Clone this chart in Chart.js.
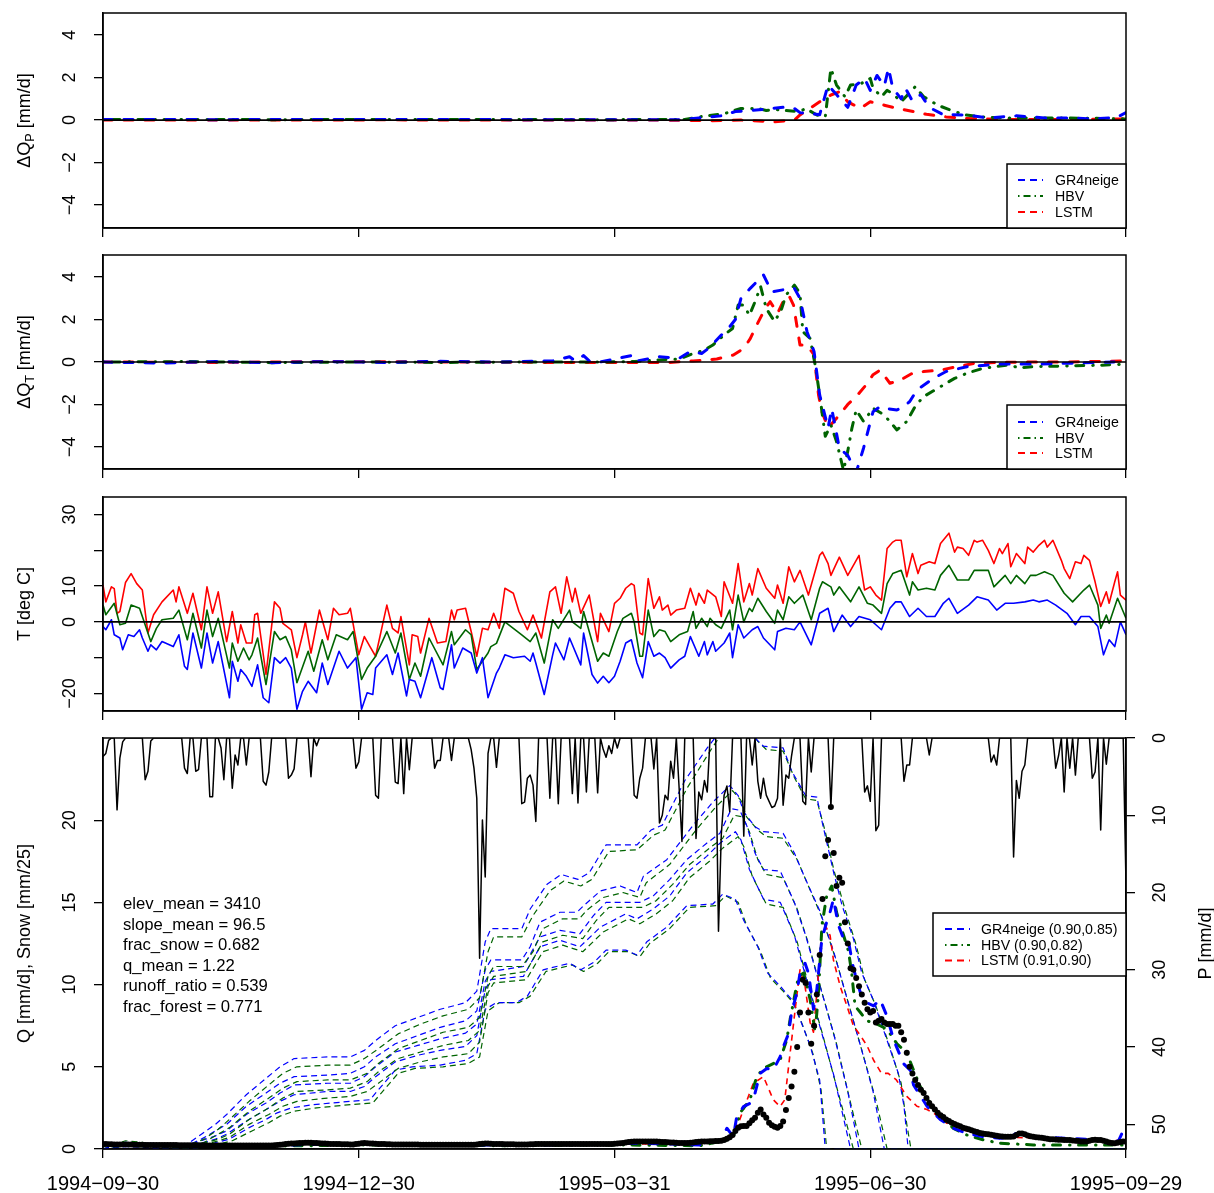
<!DOCTYPE html>
<html>
<head>
<meta charset="utf-8">
<title>Catchment response</title>
<script src="https://cdn.jsdelivr.net/npm/chart.js@4.4.1/dist/chart.umd.min.js"></script>
<style>
  html, body { margin: 0; padding: 0; background: #ffffff; }
  #page { position: relative; width: 1214px; height: 1193px; overflow: hidden; }
  #page canvas { position: absolute; left: 0; }
</style>
</head>
<body>
<div id="page">
  <canvas id="qpChart" width="1214" height="242" style="top:0px"></canvas>
  <canvas id="qtChart" width="1214" height="242" style="top:242px"></canvas>
  <canvas id="tempChart" width="1214" height="241" style="top:484px"></canvas>
  <canvas id="flowChart" width="1214" height="468" style="top:725px"></canvas>
</div>
<script>
// ---- data (x = days since 1994-09-30) ----
const dateTickDays = [0, 91, 182, 273, 364];
const dateLabels = ['1994-09-30', '1994-12-30', '1995-03-31', '1995-06-30', '1995-09-29'];

// panel 1: delta Q from precipitation perturbation [mm/d]
const dqpGR4 = [[0,0.03],[40,0.02],[90,0.03],[150,0.02],[205,0.02],[212,0.1],[220,0.2],[225,0.4],[230,0.45],[235,0.5],[238,0.55],[242,0.6],[246,0.55],[248,0.35],[252,0.3],[255,0.25],[258,1.65],[261,1.2],[265,0.6],[268,1.65],[271,1.96],[273,1.4],[275.4,2.1],[278,1.6],[279.5,2.45],[281,1.5],[284,1.0],[285.5,1.5],[288,0.9],[291,1.2],[294,0.6],[299,0.25],[307,0.24],[315,0.1],[325,0.2],[335,0.1],[345,0.1],[352,0.05],[358,0.1],[361,0.15],[364,0.35]];
const dqpHBV = [[0,0.03],[60,0.02],[120,0.03],[180,0.02],[207,0.03],[212,0.15],[221,0.3],[227,0.55],[233,0.55],[236,0.45],[239,0.5],[243,0.45],[248,0.4],[250,0.55],[254,0.24],[257,0.15],[259,2.43],[261,1.65],[264,1.1],[266,1.65],[269.5,1.7],[273,1.96],[274,1.5],[277,1.1],[279,1.4],[281,1.25],[284,0.86],[289,1.57],[292,1.1],[297,0.7],[303,0.4],[307,0.24],[313,0.15],[320,0.1],[340,0.1],[355,0.08],[364,0.05]];
const dqpLSTM = [[0,0],[100,0.01],[200,0],[216,-0.03],[227,0],[239,-0.08],[246,0],[248,0.24],[255,0.86],[259,1.18],[262,1.33],[265,0.86],[269.5,0.55],[273,0.86],[278,0.7],[282.5,0.55],[288.5,0.4],[293,0.27],[300,0.15],[307,0.08],[320,0.03],[350,0.03],[362,0.05],[364,0.1]];

// panel 2: delta Q from temperature perturbation [mm/d]
const dqtGR4 = [[0,0],[20,-0.05],[40,0.02],[60,-0.03],[80,0.02],[100,-0.02],[120,0.03],[140,0],[160,0.05],[166,0.25],[168,0.05],[171,0.3],[173,0.05],[177,0],[189,0.33],[190,0.05],[198,0.25],[205,0.17],[209,0.5],[213,0.4],[216,0.7],[220,1.27],[223,1.66],[225,2.0],[227,3.0],[230.3,3.47],[232.6,3.78],[235,4.1],[238,3.3],[242,3.4],[246,3.47],[248,3.0],[250.5,1.43],[253,0.5],[255,-1.55],[258,-3.1],[259.3,-2.2],[262,-4.06],[265,-4.4],[268,-5.2],[270.6,-4.06],[274,-2.34],[276.5,-2.1],[279,-2.2],[282.5,-2.26],[285,-2.1],[287,-1.87],[289.6,-1.32],[293,-1.0],[295.5,-0.77],[300,-0.45],[307.4,-0.22],[319,-0.1],[331,-0.1],[343,-0.06],[355,-0.02],[364,0.02]];
const dqtHBV = [[0,0],[30,0.02],[60,-0.03],[90,0],[120,-0.02],[150,0],[177,0],[189,0.02],[198,0.1],[205,0.14],[210,0.4],[214,0.56],[217,0.8],[221,1.27],[224,1.58],[226,2.68],[228,2.68],[230,2.2],[232,2.84],[234,3.55],[236,2.52],[239,1.9],[241.5,2.52],[243,3.15],[246,3.62],[248,3.23],[249,1.43],[251.6,1.11],[253.4,-0.14],[255,-1.55],[257,-3.5],[259,-2.96],[261,-3.75],[263.5,-5.1],[265,-4.2],[266.5,-3.1],[268,-2.26],[270.6,-2.8],[274,-2.18],[278,-2.5],[282.5,-3.2],[286,-2.8],[289.6,-1.95],[293,-1.55],[298,-1.16],[303,-0.77],[307.4,-0.53],[313,-0.3],[322,-0.14],[326,-0.27],[331,-0.22],[343,-0.19],[355,-0.15],[364,-0.1]];
const dqtLSTM = [[0,0],[40,-0.02],[80,0.02],[120,0],[160,-0.02],[200.6,-0.03],[210,0.05],[218.4,0.14],[224.3,0.33],[228,0.64],[230.3,1.1],[232.6,1.74],[235.6,2.52],[237.4,2.84],[240,2.29],[242,2.84],[244,3.15],[245.7,2.68],[248,0.8],[250.5,0.8],[253,0.33],[254.6,-1.55],[255.8,-2.34],[258,-3.1],[260,-2.8],[262,-2.5],[265,-2.0],[268,-1.63],[271,-1.16],[274,-0.6],[276.5,-0.38],[280,-1.0],[283.7,-0.85],[288,-0.53],[292,-0.45],[298,-0.38],[304,-0.22],[310,-0.06],[319,-0.02],[331,0],[343,0],[364,0.05]];

// panel 3: daily temperature [deg C]
const tMax = [[0,10.3],[1,5.6],[3,9.8],[4,9.3],[5,2.4],[6,2.9],[8,11],[10,13.5],[12,10.7],[14,8.9],[16,-3.1],[18,2],[21,5.6],[25,8.9],[26,5.6],[27,9.8],[30,2.4],[32,8],[35,-2.2],[37,9.8],[39,2.4],[41,8.4],[44,-5.5],[46,2.9],[48,-5.9],[49,-0.8],[51,-5.9],[53,-5.9],[54,2],[55,2.4],[58,-14.7],[61,5.6],[63,3.8],[64,-0.4],[67,-2.2],[69,-10],[71,-3.6],[72,0],[74,-8.7],[77,3.3],[80,-5],[82,3.8],[84,2],[87,2.4],[88,3.8],[91,-9.2],[93,-4.1],[95,-6.9],[97,-9.6],[101,4.7],[103,-1.8],[105,-3.1],[106,1.5],[109,-12],[110,-3.6],[112,-4.1],[113,-8.7],[116,1],[119,-5.9],[122,-5.5],[124,3.3],[125,0.6],[126,3.3],[129,3.8],[131,-2.7],[133,-9.6],[135,-1.8],[137,-2.2],[139,2.4],[141,-1.8],[143,9.4],[146,8],[148,2.9],[151,-2.2],[153,1.9],[156,-4.5],[159,8.4],[161,9.8],[163,2.4],[165,12.6],[167,5.6],[168,9.4],[170,2.4],[173,7.5],[176,-5.5],[177,2.4],[180,-2.7],[182,5.2],[184,6.6],[186,9.4],[188,10.7],[189,10.2],[191,-3.1],[192,-3.6],[194,12.1],[196,3.8],[198,7],[199,3.3],[201,4.7],[202,1.9],[204,3.3],[207,3.8],[209,9.4],[211,4.7],[212,8],[214,5.2],[215,8.9],[218,7],[220,1.5],[221,11.2],[224,5.2],[226,16.3],[228,5.6],[230,10.7],[231,7.5],[233,14.9],[236,9.4],[239,6.6],[240,10.3],[242,5.2],[244,15.4],[246,11.2],[248,14.4],[251,7.5],[255,18.6],[256,19.5],[258,16.3],[259,13],[262,18.1],[265,13],[269,18.6],[271,8.9],[273,9.8],[275,7.5],[277,6.1],[279,20.5],[281,22.3],[282,22.8],[284,22.8],[286,12.6],[288,19.1],[290,13.5],[291,15.8],[294,16.8],[296,16.3],[298,21.9],[301,24.8],[303,19.5],[304,20.9],[306,20.5],[308,18.6],[310,22.8],[311,22.3],[313,22.8],[315,20],[317,16.3],[319,20.5],[320,19.1],[322,21.9],[323,15.4],[325,19.1],[328,16.3],[329,20.9],[331,19.5],[333,21.4],[335,22.8],[336,20.9],[338,22.8],[341,17.2],[342,14.9],[344,12.1],[346,16.8],[348,16.3],[349,18.6],[351,17.2],[353,11.2],[355,4.3],[357,8.4],[358,5.2],[360,11.2],[361,14],[362,7.5],[364,6.1]];
const tMean = [[0,4.7],[1,2],[4,5.2],[6,-0.8],[8,-0.4],[10,4.7],[13,3.8],[14,1.5],[17,-5.5],[19,-1.8],[21,0.6],[25,1],[27,3.3],[30,-5],[32,2.4],[35,-7.3],[37,3.3],[39,-4.1],[41,1],[45,-12.9],[46,-5.9],[48,-11],[50,-7.3],[52,-10.6],[53,-9.2],[55,-4.5],[58,-17.5],[61,-2.7],[63,-5],[65,-4.1],[67,-7.8],[69,-17],[73,-8.2],[75,-13.8],[78,-5],[80,-10.6],[83,-3.6],[87,-5],[89,-2.7],[92,-16.1],[94,-12.9],[97,-9.6],[101,-2.7],[104,-8.7],[106,-3.1],[109,-16.1],[111,-11.5],[113,-15.2],[116,-4.5],[121,-12],[124,-2.7],[125,-6.4],[129,-2.2],[131,-3.6],[133,-13.3],[137,-8.7],[138,-6.9],[140,-6],[143,0],[146,-1.8],[149,-3.6],[152,-5.5],[154,-3.1],[157,-11.5],[160,0.6],[162,-1.8],[166,3.3],[167,0],[170,-1.8],[171,2.9],[176,-11],[178,-8.7],[180,-9.6],[183,-2.7],[185,1],[188,2.4],[189,0],[191,-9.6],[192,-9.6],[194,3.3],[196,-4.1],[198,-2.2],[200,-2.7],[202,-5.5],[205,-3.6],[208,-2.7],[210,2.9],[211,-1.8],[213,1],[215,-1.3],[216,1],[218,-0.8],[220,-1.8],[223,3.3],[224,-2.2],[226,7.5],[228,0],[230,3.8],[231,2.9],[233,6.6],[236,2.9],[239,-0.4],[240,3.3],[242,0.6],[244,7],[246,5.2],[249,7.5],[252,0.6],[255,9.4],[256,11.2],[259,9.8],[260,7.5],[262,9.8],[266,5.6],[269,9.8],[272,5.2],[274,4.7],[277,2.4],[279,10.7],[281,13.5],[284,14.4],[287,7.5],[288,11.2],[290,8.9],[293,9.4],[296,8.9],[298,13],[301,15.8],[304,11.7],[308,11.7],[310,14.4],[315,14.4],[317,9.8],[321,13],[323,10.7],[325,13],[328,10.7],[330,13],[332,13],[335,14],[338,13],[342,8],[345,5.6],[349,8.9],[351,10.3],[354,4.7],[355,-1.8],[357,1.9],[358,-0.4],[361,6.6],[364,1]];
const tMin = [[0,-1.3],[1,-2.2],[3,0.6],[4,-3.6],[6,-4.5],[7,-7.8],[9,-3.6],[11,-4.1],[13,-2.2],[14,-4.5],[16,-8.2],[17,-6.4],[19,-7.8],[21,-5.5],[25,-6.9],[27,-3.6],[29,-12.4],[30,-13.3],[32,-3.1],[35,-12.9],[37,-3.1],[39,-11.5],[41,-5.5],[45,-21.2],[46,-11],[48,-16.6],[49,-13.3],[51,-15.2],[53,-18],[55,-12],[57,-21.2],[59,-22.6],[61,-10],[63,-11.5],[65,-10],[67,-12.9],[69,-24.4],[71,-19.4],[73,-16.6],[76,-19.8],[78,-11.5],[80,-17.5],[84,-8.2],[87,-12.9],[90,-10],[92,-24.4],[94,-19.8],[96,-20.3],[97,-12.9],[101,-9.2],[103,-14.7],[105,-8.7],[108,-20.7],[109,-16.1],[111,-16.6],[113,-21.2],[117,-10],[120,-18.4],[121,-18.9],[124,-6.4],[125,-12.9],[128,-7.3],[131,-8.7],[133,-14.3],[135,-10],[137,-21.2],[140,-14.3],[141,-12.9],[143,-9.2],[146,-10],[150,-9.6],[152,-11],[153,-8.7],[154,-11.5],[157,-20.3],[160,-9.2],[161,-5.9],[164,-10.6],[166,-4.5],[170,-12],[171,-3.1],[174,-14.7],[176,-17.1],[178,-15.2],[180,-17],[182,-15.2],[184,-11],[186,-5.9],[188,-5],[190,-11.5],[192,-15.6],[194,-5.5],[196,-9.6],[198,-8.7],[200,-10],[202,-12.9],[205,-10.6],[207,-9.6],[209,-4.1],[212,-9.6],[214,-5.5],[215,-9.2],[217,-5.5],[218,-8.2],[221,-5.9],[223,-3.1],[224,-10],[226,-0.8],[228,-4.5],[231,-2.2],[233,-1.3],[235,-4.5],[239,-7.8],[240,-2.7],[243,-1.8],[246,-2.2],[248,0],[252,-6.4],[255,2.4],[258,3.8],[260,-2.7],[263,1.9],[266,-1.3],[269,1.5],[273,0.6],[277,-2.2],[280,3.8],[282,5.6],[284,5.6],[287,1.5],[290,3.8],[293,1.5],[296,1.5],[299,5.2],[301,6.6],[304,2.4],[308,4.7],[311,7],[315,6.1],[318,3.3],[321,5.2],[324,5.2],[328,5.6],[331,6.1],[333,5.6],[336,6.1],[339,4.7],[343,2.4],[346,-0.8],[348,1.5],[351,1.5],[354,-1.3],[356,-9.2],[358,-5],[360,-6.9],[362,0],[364,-3.6]];

// panel 4: precipitation days with rain [day, mm/d]
const precipEvents = [[0,2.4],[1,2.0],[2,0.3],[5,9.3],[6,2.6],[7,0.5],[15,5.4],[16,4.3],[17,0.4],[29,3.9],[30,4.6],[33,4.3],[34,4.1],[38,7.6],[39,7.6],[42,1.3],[43,5.4],[46,6.5],[47,2.2],[48,3.5],[51,3.5],[57,5.6],[58,6.1],[59,4.4],[66,5.2],[67,4.8],[68,4.0],[74,5.0],[76,1.0],[90,3.9],[91,3.1],[97,7.4],[98,7.8],[104,5.7],[105,5.9],[107,7.2],[109,4.1],[118,3.9],[119,2.9],[120,2.9],[124,2.9],[131,1.5],[132,3.9],[133,7.8],[134,28.5],[135,10.6],[136,18.0],[137,2.0],[140,3.8],[149,8.5],[150,8.3],[151,5.2],[152,4.8],[153,6.1],[154,10.8],[159,7.8],[162,8.5],[167,7.2],[169,8.4],[172,7.0],[176,7.1],[178,1.5],[179,2.5],[180,1.0],[181,2.0],[183,1.3],[189,7.4],[190,7.8],[191,5.2],[192,3.9],[196,4.0],[198,11.0],[199,10.0],[200,7.4],[201,8.0],[202,3.0],[203,5.2],[205,6.5],[206,13.4],[211,13.0],[212,7.0],[213,8.0],[214,5.5],[215,7.0],[219,25.0],[220,12.5],[221,7.4],[222,6.2],[223,9.5],[228,12.7],[231,3.5],[233,5.6],[234,7.8],[235,5.2],[236,7.4],[237,8.2],[238,9.0],[239,8.8],[240,7.8],[242,8.7],[243,4.8],[244,5.2],[245,2.3],[249,8.2],[250,8.6],[252,4.4],[259,8.9],[271,7.0],[272,6.2],[273,8.2],[275,12.0],[276,11.3],[285,5.6],[286,3.5],[287,3.5],[294,2.2],[316,3.1],[317,2.2],[318,3.5],[324,15.4],[325,5.5],[326,7.8],[327,4.3],[328,3.5],[339,3.9],[340,2.3],[342,7.0],[344,3.9],[346,4.8],[352,5.2],[353,4.4],[355,11.9],[357,3.4],[364,19.0]];

// observed discharge, one value per day [mm/d]
const qObs = [
  0.30,0.30,0.29,0.29,0.28,0.28,0.28,0.27,0.27,0.27,
  0.27,0.26,0.26,0.26,0.26,0.25,0.25,0.25,0.25,0.25,
  0.25,0.24,0.24,0.24,0.24,0.24,0.24,0.23,0.23,0.23,
  0.23,0.23,0.23,0.23,0.23,0.23,0.23,0.22,0.22,0.22,
  0.22,0.22,0.22,0.22,0.22,0.22,0.21,0.21,0.21,0.21,
  0.21,0.21,0.21,0.21,0.21,0.21,0.21,0.21,0.21,0.21,
  0.22,0.23,0.24,0.26,0.28,0.30,0.32,0.33,0.34,0.35,
  0.36,0.37,0.38,0.38,0.38,0.37,0.36,0.35,0.34,0.33,
  0.32,0.31,0.30,0.30,0.30,0.29,0.29,0.29,0.28,0.28,
  0.30,0.32,0.35,0.36,0.35,0.34,0.33,0.32,0.31,0.30,
  0.30,0.29,0.29,0.28,0.28,0.28,0.28,0.27,0.27,0.27,
  0.27,0.27,0.27,0.26,0.26,0.26,0.26,0.26,0.26,0.26,
  0.26,0.26,0.26,0.26,0.26,0.26,0.26,0.26,0.26,0.26,
  0.26,0.26,0.26,0.27,0.30,0.32,0.33,0.33,0.32,0.31,
  0.30,0.30,0.30,0.29,0.29,0.29,0.29,0.28,0.28,0.28,
  0.28,0.28,0.29,0.29,0.30,0.30,0.30,0.30,0.30,0.30,
  0.30,0.30,0.30,0.30,0.30,0.30,0.30,0.30,0.30,0.30,
  0.30,0.30,0.30,0.30,0.30,0.30,0.30,0.30,0.30,0.30,
  0.30,0.31,0.32,0.33,0.35,0.37,0.40,0.42,0.44,0.45,
  0.45,0.46,0.46,0.46,0.45,0.45,0.45,0.45,0.44,0.43,
  0.42,0.41,0.40,0.39,0.38,0.37,0.36,0.36,0.37,0.38,
  0.40,0.42,0.44,0.45,0.46,0.46,0.47,0.47,0.48,0.48,
  0.50,0.55,0.62,0.72,0.85,1.10,1.30,1.38,1.40,1.40,
  1.56,1.75,1.90,2.20,2.40,2.10,1.90,1.60,1.45,1.35,
  1.30,1.40,1.67,2.37,3.10,3.80,4.70,6.20,8.30,10.3,
  10.1,8.30,6.40,7.50,9.40,11.8,15.2,17.8,18.8,20.8,
  18.0,16.0,16.5,16.2,13.8,12.5,11.0,10.9,10.4,9.90,
  9.40,8.90,8.50,8.30,8.40,7.70,7.80,7.90,7.70,7.60,
  7.60,7.60,7.50,7.50,7.10,6.65,5.85,5.00,4.60,4.20,
  3.90,3.60,3.40,3.10,2.80,2.60,2.40,2.20,2.05,1.95,
  1.80,1.70,1.60,1.52,1.45,1.38,1.30,1.25,1.20,1.14,
  1.08,1.03,0.98,0.95,0.92,0.90,0.87,0.84,0.81,0.78,
  0.76,0.75,0.75,0.74,0.76,0.85,0.95,0.95,0.90,0.82,
  0.78,0.75,0.72,0.70,0.68,0.65,0.62,0.60,0.60,0.58,
  0.57,0.56,0.55,0.55,0.54,0.52,0.50,0.48,0.46,0.45,
  0.46,0.50,0.55,0.56,0.55,0.55,0.50,0.45,0.40,0.36,
  0.35,0.38,0.42,0.45,0.45
];

// simulated discharge [mm/d]
const qGR4 = [[0,0.3],[20,0.28],[40,0.25],[60,0.22],[80,0.3],[100,0.3],[130,0.25],[160,0.25],[190,0.35],[212.5,0.25],[219.6,0.55],[222,1.26],[224.3,0.75],[225.5,1.97],[227.9,2.58],[230.2,2.78],[232,3.4],[233.8,4.6],[236.2,4.9],[238.5,4.8],[240.9,5.6],[242,6.2],[243.9,7.0],[245,8.3],[246.9,9.5],[248,10.7],[249.8,11.3],[251,10.7],[252.2,9.3],[252.8,8.5],[254,9.7],[255.8,12.8],[257.5,13.8],[258.7,14.4],[259.9,15.2],[261.7,13.6],[263.5,12.8],[265.3,12.6],[267,11.0],[269.5,9.5],[271.8,8.9],[274.2,8.7],[276.5,9.1],[278.9,8.1],[281.3,6.65],[284.8,5.2],[287.2,4.8],[288.4,3.9],[293.2,2.6],[297.9,1.8],[302.6,1.26],[307.4,0.95],[313.3,0.75],[319.2,0.65],[322,0.7],[325,0.95],[327.5,0.95],[331,0.75],[343,0.65],[355,0.55],[358.5,0.25],[361.5,0.55],[364,1.5]];
const qHBV = [[0,0.2],[30,0.2],[60,0.18],[100,0.25],[140,0.2],[180,0.25],[212.5,0.2],[222,0.55],[224.3,0.75],[226.7,2.2],[230.2,3.0],[232.6,4.4],[235,4.9],[237.4,5.1],[240.9,5.4],[243.3,6.65],[244.5,7.9],[246.3,9.5],[247.5,10.5],[249.3,10.7],[251.6,9.1],[253.4,7.1],[254.6,9.5],[255.8,13.6],[257.5,15.4],[259.3,16.0],[261,14.4],[263.5,13.0],[265.3,12.0],[266.4,10.7],[267.6,8.7],[269.5,8.3],[271.8,7.8],[275.3,7.6],[278.9,7.3],[282.5,6.4],[286,5.85],[288.4,4.8],[290.8,3.8],[294.3,2.8],[297.9,1.97],[302.6,1.26],[307.4,0.85],[313.3,0.55],[319.2,0.35],[331,0.25],[343,0.25],[355,0.25],[364,0.25]];
const qLSTM = [[0,0.25],[30,0.25],[60,0.3],[100,0.3],[140,0.3],[180,0.3],[212.5,0.3],[220,0.5],[224.3,0.75],[227.9,2.4],[231.4,4.0],[235,4.4],[238.5,3.0],[240.9,2.58],[242.6,3.0],[244.5,5.85],[246.3,8.5],[248,10.9],[249.8,9.9],[251.6,7.7],[252.8,7.1],[254,9.5],[255.8,13.2],[257,13.6],[258.7,13.0],[259.9,11.5],[262.3,9.9],[264.7,8.7],[267,7.5],[269.5,6.9],[271.8,6.3],[274.2,5.4],[277,4.6],[279.4,4.6],[282.3,4.2],[286,3.2],[289.6,2.6],[293.2,2.4],[295.5,2.2],[300.3,1.56],[307.4,1.1],[313.3,0.95],[319.2,0.75],[331,0.65],[343,0.55],[355,0.45],[364,0.55]];

// snow water equivalent per elevation band [mm/25]
const snowGR4b1 = [[0,0],[8,0.4],[14,0.3],[20,0.2],[30,0.3],[35,0.9],[40,1.5],[44,2.1],[51,3.3],[58,4.3],[63,5.0],[68,5.5],[80,5.6],[88,5.6],[93,6.0],[97,6.6],[104,7.5],[112,8.0],[120,8.5],[129,8.9],[133,9.6],[136,12.6],[138,13.4],[149,13.4],[152,14.6],[158,16.1],[163,16.7],[169,16.4],[173,16.8],[179,18.5],[190,18.5],[195,19.4],[199,19.7],[207,22.4],[215,24.4],[220,25.5],[227,26],[232,25],[235,24.5],[242,24.4],[245,23],[250,21.5],[254,21.4],[256,19.8],[260,16.8],[263,14.8],[267,12.8],[270,10.7],[274,9.1],[279,6.6],[283,4.6],[285,2.6],[286.5,0],[364,0]];
const snowHBVb1 = [[0,0],[8,0.5],[14,0.4],[20,0.2],[30,0.2],[36,0.6],[41,1.2],[45,1.8],[52,2.9],[59,3.9],[64,4.6],[69,5.0],[80,5.1],[88,5.1],[93,5.5],[98,6.1],[105,7.0],[113,7.6],[121,8.1],[130,8.5],[134,9.2],[137,12.0],[139,12.9],[149,12.9],[153,14.2],[159,15.7],[164,16.3],[170,16.0],[174,16.4],[180,18.1],[190,18.2],[196,19.1],[200,19.4],[208,22.0],[216,24.2],[221,25.5],[228,26],[233,24.8],[236,24.3],[242,24.2],[246,22.6],[250,21.3],[254,21.2],[257,19.3],[260,17.0],[264,14.6],[268,12.4],[271,10.3],[275,8.7],[280,6.2],[284,4.0],[286,1.5],[287.5,0],[364,0]];
const snowGR4b2 = [[0,0],[8,0.3],[14,0.25],[20,0.1],[30,0.2],[35,0.6],[40,1.1],[44,1.5],[51,2.6],[58,3.4],[63,4.0],[68,4.4],[80,4.5],[88,4.6],[93,5.0],[97,5.6],[104,6.4],[112,6.9],[120,7.4],[129,7.8],[133,8.4],[136,10.9],[138,11.5],[149,11.5],[152,12.3],[155.5,13.8],[162.6,14.4],[168.6,14.4],[171,14.8],[177,15.7],[184,16.0],[190,15.6],[192.3,16.6],[200.6,17.6],[210,19.7],[217,21.1],[223,22.1],[226,21.5],[228,20.5],[232,19.6],[235,19.3],[242,19.2],[246,18.0],[250,16.4],[255,14.5],[260,12],[265,9],[270,6],[274,3.5],[278,0],[364,0]];
const snowHBVb2 = [[0,0],[9,0.35],[15,0.3],[20,0.1],[30,0.1],[36,0.4],[41,0.9],[45,1.3],[52,2.3],[59,3.1],[64,3.7],[69,4.1],[80,4.2],[88,4.2],[94,4.6],[98,5.2],[105,6.1],[113,6.6],[121,7.1],[130,7.4],[134,8.0],[137,10.5],[139,11.1],[149,11.1],[153,12.0],[156.5,13.4],[163.5,14.0],[169.5,14.0],[172,14.5],[178,15.3],[185,15.6],[191,15.3],[193.3,16.2],[201.6,17.3],[211,19.4],[218,20.8],[224,21.8],[227,21.2],[229,20.2],[233,19.4],[236,19.0],[242,18.9],[247,17.6],[251,16.0],[256,14.0],[261,11.4],[266,8.4],[271,5.4],[275,3.0],[279,0],[364,0]];
const snowGR4b3 = [[0,0],[8,0.25],[14,0.2],[20,0.1],[30,0.15],[35,0.5],[40,0.8],[44,1.1],[51,2.1],[58,2.8],[63,3.4],[68,3.9],[80,4.0],[88,4.0],[93,4.4],[97,5.0],[104,5.9],[112,6.3],[120,6.7],[129,7.05],[133,7.6],[136,10.2],[138,10.8],[149.6,11.1],[155.5,12.9],[162.6,13.3],[169.7,13.1],[174.5,14.2],[179,15.0],[191,15.0],[195.8,15.4],[201.7,16.4],[207.7,17.6],[214.8,18.6],[219.5,19.2],[223.6,20.7],[226.6,20.6],[229,19.7],[232,18.0],[235,17.0],[241,16.9],[246,15],[250,13],[255,10],[260,7],[265,3.5],[269,0],[364,0]];
const snowHBVb3 = [[0,0],[9,0.3],[15,0.25],[20,0.1],[30,0.1],[36,0.35],[41,0.6],[45,0.9],[52,1.8],[59,2.5],[64,3.1],[69,3.5],[80,3.6],[88,3.7],[94,4.1],[98,4.7],[105,5.5],[113,5.9],[121,6.3],[130,6.6],[134,7.2],[137,9.9],[139,10.5],[150.6,10.8],[156.5,12.6],[163.6,13.0],[170.7,12.8],[175.5,13.9],[180,14.7],[192,14.7],[196.8,15.1],[202.7,16.1],[208.7,17.3],[215.8,18.3],[220.5,18.9],[224.6,20.3],[227.6,20.2],[230,19.3],[233,17.6],[236,16.7],[242,16.5],[247,14.6],[251,12.5],[256,9.4],[261,6.4],[266,2.8],[270,0],[364,0]];
const snowGR4b4 = [[0,0],[8,0.2],[14,0.15],[20,0.05],[30,0.1],[36,0.4],[40,0.6],[44,0.9],[51,1.7],[58,2.4],[63,2.9],[68,3.3],[80,3.5],[88,3.5],[93,3.8],[97,4.4],[104,5.3],[112,5.7],[120,6.0],[129,6.24],[133,6.9],[136,9.7],[138,10.3],[149.6,10.5],[155.5,12.3],[162.6,12.7],[169.7,12.3],[177,13.5],[186,14.3],[190,14.0],[195.8,14.6],[201.7,15.4],[207.7,16.8],[214.8,17.8],[219.5,18.6],[225,19.3],[227,18.8],[230,17.0],[235,15.2],[241,15.0],[246,13],[250,10.5],[255,7.5],[260,4.5],[266,0],[364,0]];
const snowHBVb4 = [[0,0],[9,0.25],[15,0.2],[20,0.05],[30,0.05],[37,0.3],[41,0.5],[45,0.7],[52,1.5],[59,2.1],[64,2.6],[69,2.9],[80,3.1],[88,3.2],[94,3.5],[98,4.0],[105,4.9],[113,5.3],[121,5.6],[130,5.8],[134,6.5],[137,9.5],[139,10.1],[150.6,10.3],[156.5,12.0],[163.6,12.4],[170.7,12.0],[178,13.2],[187,14.0],[191,13.7],[196.8,14.3],[202.7,15.1],[208.7,16.5],[215.8,17.5],[220.5,18.3],[226,19.0],[228,18.4],[231,16.6],[236,14.9],[242,14.7],[247,12.6],[251,10.0],[256,7.0],[261,3.8],[267,0],[364,0]];
const snowGR4b5 = [[0,0],[8,0.15],[14,0.1],[20,0],[33,0.05],[38,0.3],[45,0.6],[52,1.3],[58,1.8],[62,2.2],[67,2.5],[75,2.7],[88,2.9],[95,3.0],[98,3.6],[104,4.8],[110,5.0],[120,5.1],[129,5.4],[133,5.8],[136,8.5],[140,8.9],[147,8.9],[151,9.3],[156.6,10.9],[166,11.3],[170,10.9],[175,11.4],[179,12.1],[186,12.1],[190,11.8],[193.5,12.6],[200.6,13.5],[207.7,14.8],[217,14.9],[220.5,15.5],[225,15.2],[228,13.9],[233,12.3],[236.5,10.7],[241,9.9],[245,9.1],[248,7.9],[251.6,6.3],[255,4.2],[257,0],[364,0]];
const snowHBVb5 = [[0,0],[9,0.2],[15,0.15],[20,0],[33,0],[39,0.2],[46,0.5],[53,1.1],[59,1.6],[63,2.0],[68,2.3],[76,2.5],[88,2.7],[96,2.8],[99,3.4],[105,4.6],[111,4.9],[121,5.0],[130,5.2],[134,5.6],[137,8.4],[141,8.9],[148,8.9],[152,9.3],[157.6,10.8],[167,11.2],[171,10.8],[176,11.3],[180,12.0],[187,12.0],[191,11.7],[194.5,12.5],[201.6,13.4],[208.7,14.7],[218,14.8],[221.5,15.4],[226,15.0],[229,13.6],[234,12.0],[237.5,10.4],[242,9.6],[246,8.8],[249,7.5],[252.6,5.8],[255.5,3.6],[257.5,0],[364,0]];

const catchmentInfo = ['elev_mean = 3410', 'slope_mean = 96.5', 'frac_snow = 0.682', 'q_mean = 1.22', 'runoff_ratio = 0.539', 'frac_forest = 0.771'];
const modelNames = ['GR4neige', 'HBV', 'LSTM'];
const modelScores = ['GR4neige (0.90,0.85)', 'HBV (0.90,0.82)', 'LSTM (0.91,0.90)'];

// ---- styling and helpers ----
const FONT = '"Liberation Sans", Arial, Helvetica, sans-serif';
const AXIS_PX = 18;
const DATE_PX = 20;
const BLUE = '#0000ff', GREEN = '#006400', RED = '#ff0000';
const DASH = [9, 12];          // R lty 2 at lwd 3, round caps
const DOTDASH = [0.5, 8.5, 8, 9];  // R lty 4 at lwd 3

function pts(a) { return a.map(p => ({ x: p[0], y: p[1] })); }

function fmt(v) { return v < 0 ? '\u2212' + Math.abs(v) : String(v); }

function line(data, color, width, dash, order, cap, axis) {
    return {
        data: pts(data), borderColor: color, borderWidth: width, borderDash: dash || [],
        borderCapStyle: cap || 'butt', borderJoinStyle: 'round', pointRadius: 0,
        tension: 0, fill: false, order: order, clip: 0, yAxisID: axis || 'y'
    };
}

function xAxis(h) {
    return {
        type: 'linear', min: 0, max: 364,
        afterBuildTicks: s => { s.ticks = dateTickDays.map(v => ({ value: v })); },
        afterFit: s => { s.height = h; },
        grid: { drawOnChartArea: false, drawTicks: true, tickLength: 9, color: '#000', lineWidth: 1.3 },
        border: { display: true, color: '#000', width: 1.5 },
        ticks: { display: false }
    };
}

function yAxis(min, max, tickVals, position, width, reverse) {
    return {
        type: 'linear', min: min, max: max, position: position, reverse: !!reverse,
        afterBuildTicks: s => { s.ticks = tickVals.map(v => ({ value: v })); },
        afterFit: s => { s.width = width; },
        grid: { drawOnChartArea: false, drawTicks: true, tickLength: 9, color: '#000', lineWidth: 1.3 },
        border: { display: true, color: '#000', width: 1.5 },
        ticks: { display: false }
    };
}

// rotated text (reads bottom to top), parts = [text, scale, dy]
function vText(ctx, parts, x, yc, size) {
    let total = 0;
    parts.forEach(p => { ctx.font = (size * p[1]) + 'px ' + FONT; total += ctx.measureText(p[0]).width; });
    ctx.save();
    ctx.translate(x, yc);
    ctx.rotate(-Math.PI / 2);
    ctx.textAlign = 'left';
    ctx.textBaseline = 'alphabetic';
    let cx = -total / 2;
    parts.forEach(p => {
        ctx.font = (size * p[1]) + 'px ' + FONT;
        ctx.fillText(p[0], cx, p[2]);
        cx += ctx.measureText(p[0]).width;
    });
    ctx.restore();
}

function drawLegend(ctx, box, items) {
    ctx.save();
    ctx.fillStyle = '#fff';
    ctx.fillRect(box.x, box.y, box.w, box.h);
    ctx.strokeStyle = '#000';
    ctx.lineWidth = 1.5;
    ctx.setLineDash([]);
    ctx.strokeRect(box.x, box.y, box.w, box.h);
    ctx.font = '14.2px ' + FONT;
    ctx.textAlign = 'left';
    ctx.textBaseline = 'middle';
    items.forEach((it, i) => {
        const y = box.y + box.rows[i];
        ctx.strokeStyle = it.color;
        ctx.lineWidth = 2;
        ctx.lineCap = 'butt';
        ctx.setLineDash(it.dash);
        ctx.beginPath();
        ctx.moveTo(box.x + box.s0, y);
        ctx.lineTo(box.x + box.s1, y);
        ctx.stroke();
        ctx.setLineDash([]);
        ctx.fillStyle = '#000';
        ctx.fillText(it.text, box.x + box.tx, y + 1);
    });
    ctx.restore();
}

const legendDash = { gr4: [7, 5], hbv: [1.5, 4, 7, 4], lstm: [7, 5] };

function decor(o) {
    return {
        id: 'decor',
        afterDatasetsDraw(chart) {
            const ctx = chart.ctx, a = chart.chartArea, ys = chart.scales.y, xs = chart.scales.x;
            ctx.save();
            ctx.strokeStyle = '#000';
            ctx.fillStyle = '#000';
            ctx.setLineDash([]);
            if (o.zeroLine) {
                const y0 = ys.getPixelForValue(0);
                ctx.lineWidth = 1.6;
                ctx.beginPath();
                ctx.moveTo(a.left, y0);
                ctx.lineTo(a.right, y0);
                ctx.stroke();
            }
            ctx.lineWidth = 1.5;
            ctx.strokeRect(a.left, a.top, a.right - a.left, a.bottom - a.top);

            o.leftLabels.forEach(v => vText(ctx, [[fmt(v), 1, 0]], 75, ys.getPixelForValue(v), AXIS_PX));
            vText(ctx, o.leftTitle, 30, (a.top + a.bottom) / 2, AXIS_PX);

            if (o.rightLabels) {
                const yr = chart.scales.y1;
                o.rightLabels.forEach(v => vText(ctx, [[fmt(v), 1, 0]], 1165, yr.getPixelForValue(v), AXIS_PX));
                vText(ctx, o.rightTitle, 1211, (a.top + a.bottom) / 2, AXIS_PX);
            }
            if (o.xLabels) {
                ctx.font = DATE_PX + 'px ' + FONT;
                ctx.textAlign = 'center';
                ctx.textBaseline = 'alphabetic';
                dateTickDays.forEach((d, i) => {
                    ctx.fillText(dateLabels[i].replace(/-/g, '\u2212'), xs.getPixelForValue(d), a.bottom + o.xLabelOffset);
                });
            }
            if (o.notes) {
                ctx.font = '16.7px ' + FONT;
                ctx.textAlign = 'left';
                ctx.textBaseline = 'alphabetic';
                o.notes.forEach((t, i) => ctx.fillText(t, a.left + 20, a.top + 171 + i * 20.5));
            }
            if (o.legend) {
                const L = o.legend;
                drawLegend(ctx, {
                    x: a.right - L.w, y: L.fromBottom ? a.bottom - L.h : a.top + L.top,
                    w: L.w, h: L.h, rows: L.rows, s0: L.s0, s1: L.s1, tx: L.tx
                }, L.items);
            }
            ctx.restore();
        }
    };
}

function baseOptions(padRight, scales) {
    return {
        responsive: false, maintainAspectRatio: false, animation: false, devicePixelRatio: 1, events: [],
        layout: { padding: { top: 13, right: padRight, left: 0, bottom: 0 } },
        scales: scales,
        plugins: { legend: { display: false }, tooltip: { enabled: false } }
    };
}

function simLegendItems(texts) {
    return [
        { text: texts[0], color: BLUE, dash: legendDash.gr4 },
        { text: texts[1], color: GREEN, dash: legendDash.hbv },
        { text: texts[2], color: RED, dash: legendDash.lstm }
    ];
}

// ---- panel 1: delta Q_P ----
new Chart(document.getElementById('qpChart'), {
    type: 'line',
    data: {
        datasets: [
            line(dqpGR4, BLUE, 3, DASH, 0, 'round'),
            line(dqpHBV, GREEN, 3, DOTDASH, 1, 'round'),
            line(dqpLSTM, RED, 3, DASH, 2, 'round')
        ]
    },
    options: baseOptions(88, { x: xAxis(14), y: yAxis(-5.08, 5.04, [-4, -2, 0, 2, 4], 'left', 103) }),
    plugins: [decor({
        zeroLine: true,
        leftLabels: [-4, -2, 0, 2, 4],
        leftTitle: [['\u0394Q', 1, 0], ['P', 0.7, 4], [' [mm/d]', 1, 0]],
        legend: { w: 119, h: 64, fromBottom: true, rows: [16, 32, 48], s0: 11, s1: 36, tx: 48, items: simLegendItems(modelNames) }
    })]
});

// ---- panel 2: delta Q_T ----
new Chart(document.getElementById('qtChart'), {
    type: 'line',
    data: {
        datasets: [
            line(dqtGR4, BLUE, 3, DASH, 0, 'round'),
            line(dqtHBV, GREEN, 3, DOTDASH, 1, 'round'),
            line(dqtLSTM, RED, 3, DASH, 2, 'round')
        ]
    },
    options: baseOptions(88, { x: xAxis(15), y: yAxis(-5.04, 5.04, [-4, -2, 0, 2, 4], 'left', 103) }),
    plugins: [decor({
        zeroLine: true,
        leftLabels: [-4, -2, 0, 2, 4],
        leftTitle: [['\u0394Q', 1, 0], ['T', 0.7, 4], [' [mm/d]', 1, 0]],
        legend: { w: 119, h: 64, fromBottom: true, rows: [17, 33, 48], s0: 11, s1: 36, tx: 48, items: simLegendItems(modelNames) }
    })]
});

// ---- panel 3: temperature ----
new Chart(document.getElementById('tempChart'), {
    type: 'line',
    data: {
        datasets: [
            line(tMax, RED, 1.6, [], 2),
            line(tMean, GREEN, 1.6, [], 1),
            line(tMin, BLUE, 1.6, [], 0)
        ]
    },
    options: baseOptions(88, { x: xAxis(14), y: yAxis(-24.9, 34.9, [-20, -10, 0, 10, 20, 30], 'left', 103) }),
    plugins: [decor({
        zeroLine: true,
        leftLabels: [-20, 0, 10, 30],
        leftTitle: [['T [deg C]', 1, 0]]
    })]
});

// ---- panel 4: discharge, snow and precipitation ----
const precipDaily = [];
for (let d = 0; d <= 364; d++) precipDaily.push([d, 0]);
precipEvents.forEach(e => { precipDaily[e[0]][1] = e[1]; });

const snowStyle = (data, color, order) => line(data, color, 1.2, [6, 4], order);

new Chart(document.getElementById('flowChart'), {
    type: 'line',
    data: {
        datasets: [
            line(precipDaily, '#000', 1.5, [], 0, 'butt', 'y1'),
            {
                data: qObs.map((v, d) => ({ x: d, y: v })), showLine: false,
                pointRadius: 3, pointBackgroundColor: '#000', pointBorderWidth: 0, pointBorderColor: '#000',
                order: 1, clip: 0, yAxisID: 'y'
            },
            line(qGR4, BLUE, 3, DASH, 2, 'round'),
            line(qHBV, GREEN, 3, DOTDASH, 3, 'round'),
            line(qLSTM, RED, 1.6, [6, 5], 4),
            snowStyle(snowGR4b1, BLUE, 5), snowStyle(snowHBVb1, GREEN, 6),
            snowStyle(snowGR4b2, BLUE, 7), snowStyle(snowHBVb2, GREEN, 8),
            snowStyle(snowGR4b3, BLUE, 9), snowStyle(snowHBVb3, GREEN, 10),
            snowStyle(snowGR4b4, BLUE, 11), snowStyle(snowHBVb4, GREEN, 12),
            snowStyle(snowGR4b5, BLUE, 13), snowStyle(snowHBVb5, GREEN, 14)
        ]
    },
    options: baseOptions(0, {
        x: xAxis(44),
        y: yAxis(0, 25, [0, 5, 10, 15, 20], 'left', 103),
        y1: yAxis(0, 53.2, [0, 10, 20, 30, 40, 50], 'right', 88, true)
    }),
    plugins: [decor({
        leftLabels: [0, 5, 10, 15, 20],
        leftTitle: [['Q [mm/d], Snow [mm/25]', 1, 0]],
        rightLabels: [0, 10, 20, 30, 40, 50],
        rightTitle: [['P [mm/d]', 1, 0]],
        xLabels: true,
        xLabelOffset: 41,
        notes: catchmentInfo,
        legend: { w: 193, h: 63, top: 175, rows: [16, 32, 47.5], s0: 12, s1: 37, tx: 48, items: simLegendItems(modelScores) }
    })]
});
</script>
</body>
</html>
